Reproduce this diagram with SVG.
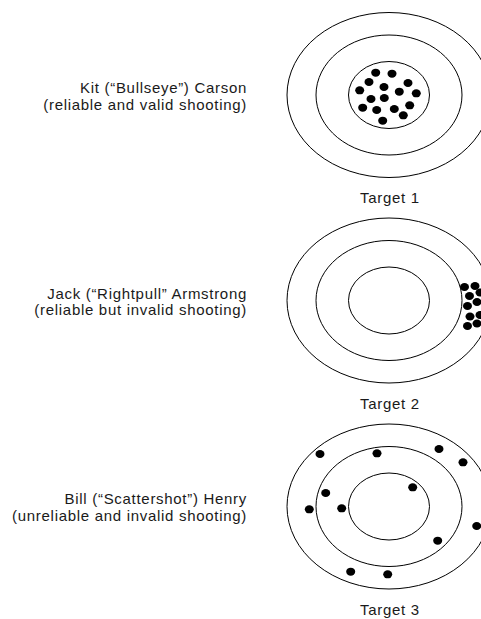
<svg xmlns="http://www.w3.org/2000/svg" width="481" height="619" viewBox="0 0 481 619">
<style>
.ring{fill:none;stroke:#000;stroke-width:1}
.dot{fill:#000}
text{font-family:"Liberation Sans",Arial,sans-serif;font-size:15px;letter-spacing:0.7px;fill:#1a1a1a}
.lbl{text-anchor:end}
.cap{text-anchor:middle}
</style>
<rect width="481" height="619" fill="#fff"/>
<defs>
<g id="rings">
<ellipse class="ring" cx="0" cy="0" rx="102" ry="82.5"/>
<ellipse class="ring" cx="0" cy="0" rx="73" ry="60"/>
<ellipse class="ring" cx="0" cy="0" rx="40.5" ry="33.5"/>
</g>
</defs>
<g id="target1">
<use href="#rings" x="389" y="95"/>
<g class="dot">
<ellipse cx="375.7" cy="72.7" rx="4.5" ry="4"/>
<ellipse cx="392" cy="73.7" rx="4.5" ry="4"/>
<ellipse cx="369" cy="82" rx="4.5" ry="4"/>
<ellipse cx="408" cy="83" rx="4.5" ry="4"/>
<ellipse cx="384" cy="87" rx="4.5" ry="4"/>
<ellipse cx="359.7" cy="90.3" rx="4.5" ry="4"/>
<ellipse cx="399.3" cy="91.7" rx="4.5" ry="4"/>
<ellipse cx="416.3" cy="93.3" rx="4.5" ry="4"/>
<ellipse cx="371" cy="99" rx="4.5" ry="4"/>
<ellipse cx="384.3" cy="98" rx="4.5" ry="4"/>
<ellipse cx="362.7" cy="107.7" rx="4.5" ry="4"/>
<ellipse cx="376.7" cy="110" rx="4.5" ry="4"/>
<ellipse cx="394.3" cy="109" rx="4.5" ry="4"/>
<ellipse cx="409.7" cy="105.3" rx="4.5" ry="4"/>
<ellipse cx="403.3" cy="115.3" rx="4.5" ry="4"/>
<ellipse cx="382.7" cy="120.7" rx="4.5" ry="4"/>
</g>
<text class="cap" x="390" y="203">Target 1</text>
</g>
<g id="label1">
<text class="lbl" x="247" y="92.5">Kit (“Bullseye”) Carson</text>
<text class="lbl" x="247" y="109.5">(reliable and valid shooting)</text>
</g>
<g id="target2">
<use href="#rings" x="389" y="300.5"/>
<g class="dot">
<ellipse cx="464.5" cy="287" rx="4.5" ry="4"/>
<ellipse cx="475" cy="286" rx="4.5" ry="4"/>
<ellipse cx="469.5" cy="296" rx="4.5" ry="4"/>
<ellipse cx="480" cy="292.5" rx="4.5" ry="4"/>
<ellipse cx="477" cy="302" rx="4.5" ry="4"/>
<ellipse cx="467.5" cy="306" rx="4.5" ry="4"/>
<ellipse cx="470" cy="316.5" rx="4.5" ry="4"/>
<ellipse cx="480" cy="315" rx="4.5" ry="4"/>
<ellipse cx="467.5" cy="326" rx="4.5" ry="4"/>
<ellipse cx="477" cy="323.5" rx="4.5" ry="4"/>
</g>
<text class="cap" x="390" y="409">Target 2</text>
</g>
<g id="label2">
<text class="lbl" x="247" y="298.5">Jack (“Rightpull” Armstrong</text>
<text class="lbl" x="247" y="315">(reliable but invalid shooting)</text>
</g>
<g id="target3">
<use href="#rings" x="389" y="506.5"/>
<g class="dot">
<ellipse cx="320" cy="454" rx="4.5" ry="4"/>
<ellipse cx="377" cy="453.3" rx="4.5" ry="4"/>
<ellipse cx="439" cy="449" rx="4.5" ry="4"/>
<ellipse cx="463" cy="462.3" rx="4.5" ry="4"/>
<ellipse cx="325.7" cy="493" rx="4.5" ry="4"/>
<ellipse cx="412.7" cy="487.3" rx="4.5" ry="4"/>
<ellipse cx="309.3" cy="509.3" rx="4.5" ry="4"/>
<ellipse cx="341.7" cy="508.3" rx="4.5" ry="4"/>
<ellipse cx="476.7" cy="526" rx="4.5" ry="4"/>
<ellipse cx="437.7" cy="540.7" rx="4.5" ry="4"/>
<ellipse cx="350.7" cy="571.7" rx="4.5" ry="4"/>
<ellipse cx="387.7" cy="574.3" rx="4.5" ry="4"/>
</g>
<text class="cap" x="390" y="614.5">Target 3</text>
</g>
<g id="label3">
<text class="lbl" x="247" y="504">Bill (“Scattershot”) Henry</text>
<text class="lbl" x="247" y="521">(unreliable and invalid shooting)</text>
</g>
</svg>
